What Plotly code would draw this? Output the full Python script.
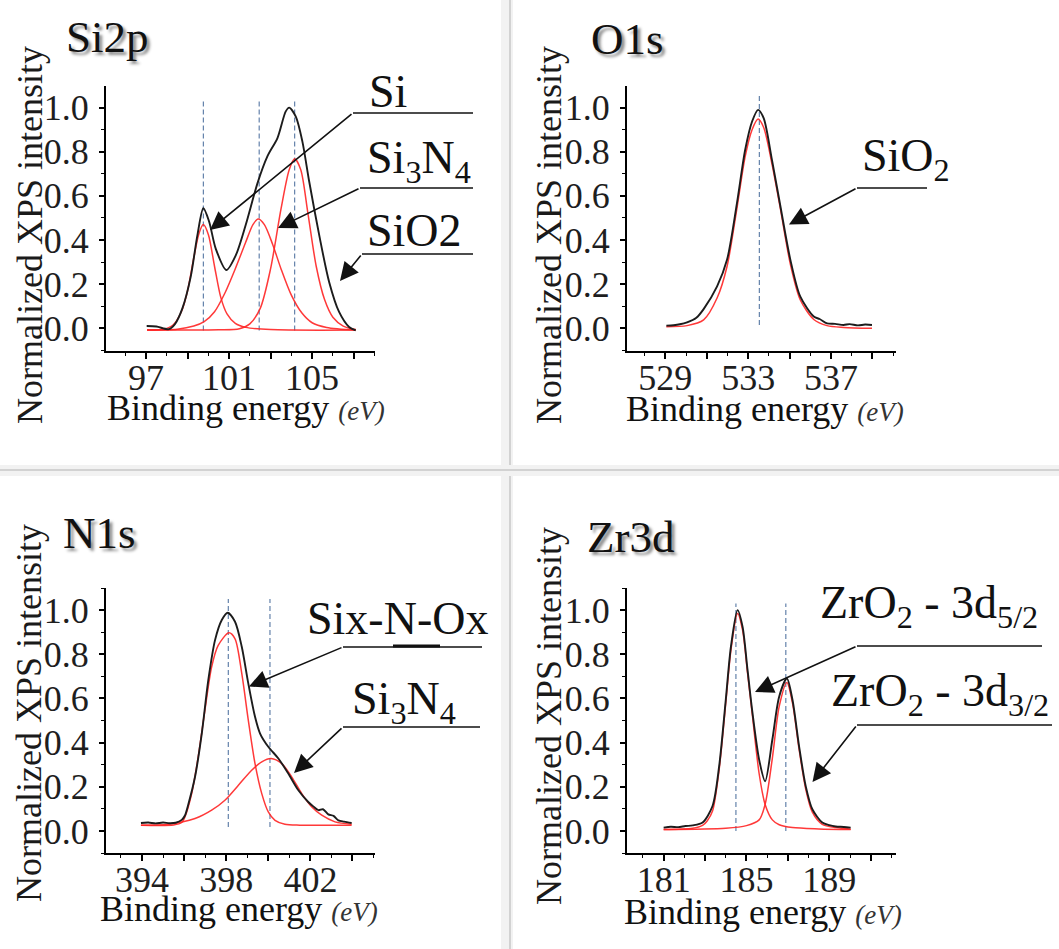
import plotly.graph_objects as go

W, H = 1059, 949
SERIF = "Liberation Serif, Times New Roman, serif"
BLACK = "#1c1c1c"
RED = "#ff2424"
REFBLUE = "#5677a3"
TICK_SIZE = 36

# ---------------- Si 2p ----------------
si2p_be = [97.03, 97.5, 98.1, 98.4, 98.75, 99.15, 99.47, 99.76, 100.04, 100.36, 100.87, 101.32,
           101.8, 102.37, 102.85, 103.33, 103.73, 103.9, 104.21, 104.53, 104.86, 105.34, 105.82,
           106.3, 106.78, 107.1]
si2p_int = [0.010, 0.008, -0.004, 0.020, 0.090, 0.233, 0.420, 0.544, 0.483, 0.360, 0.264, 0.330,
            0.468, 0.658, 0.780, 0.862, 0.983, 1.000, 0.960, 0.847, 0.665, 0.423, 0.210,
            0.074, 0.006, -0.010]
si2p_si_be = [97.05, 97.8, 98.3, 98.7, 99.0, 99.3, 99.55, 99.76, 100.0, 100.3, 100.6, 100.9,
              101.3, 101.8, 103.0, 107.1]
si2p_si = [-0.008, -0.005, 0.015, 0.075, 0.17, 0.32, 0.43, 0.47, 0.425, 0.28, 0.14, 0.065,
           0.022, 0.004, -0.006, -0.008]
si2p_si3n4_be = [97.05, 98.5, 99.3, 99.8, 100.3, 100.8, 101.3, 101.8, 102.15, 102.4, 102.7, 103.1,
                 103.5, 104.0, 104.5, 105.0, 105.7, 107.1]
si2p_si3n4 = [-0.008, -0.004, 0.01, 0.03, 0.075, 0.16, 0.27, 0.39, 0.47, 0.495, 0.47, 0.38,
              0.27, 0.15, 0.07, 0.025, 0.004, -0.008]
si2p_sio2_be = [97.05, 100.5, 101.5, 102.0, 102.5, 103.0, 103.5, 103.9, 104.16, 104.45, 104.8,
                105.2, 105.6, 106.0, 106.5, 107.1]
si2p_sio2 = [-0.008, -0.007, -0.002, 0.02, 0.09, 0.27, 0.54, 0.72, 0.768, 0.72, 0.52,
             0.28, 0.13, 0.05, 0.01, -0.006]
si2p_refs = [99.76, 102.45, 104.16]

# ---------------- O 1s ----------------
o1s_be = [529.05, 529.4, 529.7, 530.05, 530.5, 530.85, 531.5, 531.98, 532.46, 532.86, 533.19,
          533.48, 533.75, 534.15, 534.56, 535.04, 535.52, 536.17, 536.45, 536.81, 537.2, 537.61,
          537.9, 538.3, 538.65, 538.98]
o1s_int = [0.012, 0.014, 0.018, 0.027, 0.048, 0.087, 0.19, 0.31, 0.567, 0.81, 0.937,
           0.99, 0.952, 0.763, 0.552, 0.31, 0.143, 0.053, 0.042, 0.022, 0.02, 0.015,
           0.019, 0.013, 0.017, 0.015]
o1s_sio2_be = [529.05, 530.05, 530.85, 531.5, 531.98, 532.46, 532.86, 533.19, 533.48, 533.75,
               534.15, 534.56, 535.04, 535.52, 536.17, 536.81, 537.61, 538.98]
o1s_sio2 = [0.007, 0.012, 0.038, 0.137, 0.28, 0.545, 0.78, 0.9, 0.948, 0.91,
            0.745, 0.54, 0.29, 0.128, 0.04, 0.012, 0.004, 0.0]
o1s_refs = [533.54]

# ---------------- N 1s ----------------
n1s_be = [393.95, 394.3, 394.65, 395.0, 395.3, 395.6, 395.89, 396.04, 396.2, 396.52, 396.84,
          397.15, 397.47, 397.79, 398.07, 398.42, 398.74, 399.05, 399.37, 399.61, 400.0, 400.48,
          400.95, 401.43, 401.9, 402.15, 402.38, 402.6, 402.85, 403.1, 403.33, 403.6, 403.96]
n1s_int = [0.036, 0.038, 0.034, 0.038, 0.035, 0.037, 0.05, 0.07, 0.12, 0.245, 0.441,
           0.683, 0.864, 0.955, 0.988, 0.947, 0.834, 0.668, 0.517, 0.441, 0.381, 0.328,
           0.26, 0.184, 0.131, 0.11, 0.094, 0.098, 0.075, 0.068, 0.048, 0.042, 0.036]
n1s_sino_be = [393.95, 395.5, 395.89, 396.04, 396.36, 396.67, 396.99, 397.31, 397.62, 398.13,
               398.42, 398.74, 399.05, 399.37, 399.69, 400.0, 400.32, 400.79, 401.5, 403.96]
n1s_sino = [0.026, 0.027, 0.038, 0.063, 0.169, 0.335, 0.547, 0.743, 0.84, 0.897,
            0.87, 0.713, 0.502, 0.305, 0.169, 0.086, 0.048, 0.03, 0.026, 0.026]
n1s_si3n4_be = [393.95, 395.25, 396.52, 397.31, 397.94, 398.58, 399.21, 399.69, 400.13, 400.64,
                401.11, 401.59, 402.06, 402.54, 403.17, 403.96]
n1s_si3n4 = [0.026, 0.03, 0.056, 0.094, 0.139, 0.207, 0.275, 0.313, 0.328, 0.305,
             0.245, 0.169, 0.109, 0.071, 0.041, 0.03]
n1s_refs = [398.1, 400.08]

# ---------------- Zr 3d ----------------
zr3d_be = [181.0, 181.35, 181.7, 182.05, 182.4, 182.88, 183.36, 183.68, 184.0, 184.25, 184.57,
           184.81, 185.05, 185.29, 185.61, 185.9, 186.25, 186.58, 186.95, 187.22, 187.54, 187.86,
           188.18, 188.66, 189.0, 189.31, 189.7, 190.03]
zr3d_int = [0.015, 0.019, 0.017, 0.022, 0.025, 0.038, 0.113, 0.293, 0.594, 0.836, 1.0,
            0.925, 0.73, 0.534, 0.323, 0.225, 0.414, 0.609, 0.69, 0.594, 0.383, 0.203,
            0.098, 0.038, 0.026, 0.02, 0.018, 0.015]
zr3d_52_be = [181.0, 182.4, 182.88, 183.1, 183.36, 183.68, 184.0, 184.25, 184.57, 184.81, 185.05,
              185.29, 185.61, 185.9, 186.25, 186.58, 187.22, 188.5, 190.03]
zr3d_52 = [0.006, 0.012, 0.025, 0.045, 0.09, 0.278, 0.58, 0.82, 0.985, 0.91, 0.715,
           0.52, 0.26, 0.12, 0.05, 0.028, 0.015, 0.009, 0.006]
zr3d_32_be = [181.0, 184.0, 185.0, 185.61, 185.9, 186.25, 186.58, 186.95, 187.22, 187.54, 187.86,
              188.18, 188.66, 189.31, 190.03]
zr3d_32 = [0.006, 0.012, 0.024, 0.05, 0.12, 0.33, 0.564, 0.672, 0.58, 0.37, 0.19,
           0.085, 0.03, 0.015, 0.008]
zr3d_refs = [184.49, 186.9]

# tick labels
y_tick_vals = [0.0, 0.2, 0.4, 0.6, 0.8, 1.0]
y_tick_text = ["0.0", "0.2", "0.4", "0.6", "0.8", "1.0"]
si2p_ticks = [97, 99, 101, 103, 105, 107]
si2p_tick_text = ["97", "", "101", "", "105", ""]
o1s_ticks = [529, 531, 533, 535, 537, 539]
o1s_tick_text = ["529", "", "533", "", "537", ""]
n1s_ticks = [394, 396, 398, 400, 402, 404]
n1s_tick_text = ["394", "", "398", "", "402", ""]
zr3d_ticks = [181, 183, 185, 187, 189, 191]
zr3d_tick_text = ["181", "", "185", "", "189", ""]


def PX(x):
    return x / W


def PY(y):
    return 1 - y / H


# panel frames in pixels (left, right, top, bottom)
COL_L = (106, 375)
COL_R = (627, 896)
ROW_T = (86, 351)
ROW_B = (588, 853)

panels = [
    dict(name="Si2p", ax="", col=COL_L, row=ROW_T, xr=[95.07, 108.03], yr=[-0.103, 1.098],
         ticks=si2p_ticks, tick_text=si2p_tick_text, tick0=97,
         total=(si2p_be, si2p_int),
         comps=[(si2p_si_be, si2p_si), (si2p_si3n4_be, si2p_si3n4), (si2p_sio2_be, si2p_sio2)],
         refs=si2p_refs, ref_span=(-0.01, 1.03)),
    dict(name="O1s", ax="2", col=COL_R, row=ROW_T, xr=[527.15, 540.14], yr=[-0.103, 1.098],
         ticks=o1s_ticks, tick_text=o1s_tick_text, tick0=529,
         total=(o1s_be, o1s_int), comps=[(o1s_sio2_be, o1s_sio2)],
         refs=o1s_refs, ref_span=(0.015, 1.06)),
    dict(name="N1s", ax="3", col=COL_L, row=ROW_B, xr=[392.29, 405.07], yr=[-0.1, 1.1],
         ticks=n1s_ticks, tick_text=n1s_tick_text, tick0=394,
         total=(n1s_be, n1s_int), comps=[(n1s_sino_be, n1s_sino), (n1s_si3n4_be, n1s_si3n4)],
         refs=n1s_refs, ref_span=(0.018, 1.05)),
    dict(name="Zr3d", ax="4", col=COL_R, row=ROW_B, xr=[179.23, 192.22], yr=[-0.1, 1.1],
         ticks=zr3d_ticks, tick_text=zr3d_tick_text, tick0=181,
         total=(zr3d_be, zr3d_int), comps=[(zr3d_52_be, zr3d_52), (zr3d_32_be, zr3d_32)],
         refs=zr3d_refs, ref_span=(0.0, 1.03)),
]

fig = go.Figure()
layout_axes = {}

for p in panels:
    xa, ya = "x" + p["ax"], "y" + p["ax"]
    # reference positions (dashed)
    for e in p["refs"]:
        fig.add_trace(go.Scatter(x=[e, e], y=list(p["ref_span"]), mode="lines", xaxis=xa, yaxis=ya,
                                 line=dict(color=REFBLUE, width=1.1, dash="5px,3px"),
                                 showlegend=False, hoverinfo="skip"))
    # fitted components
    for bx, by in p["comps"]:
        fig.add_trace(go.Scatter(x=bx, y=by, mode="lines", xaxis=xa, yaxis=ya,
                                 line=dict(color=RED, width=1.5, shape="spline", smoothing=0.8),
                                 opacity=0.9, showlegend=False))
    # measured spectrum
    bx, by = p["total"]
    fig.add_trace(go.Scatter(x=bx, y=by, mode="lines", xaxis=xa, yaxis=ya,
                             line=dict(color=BLACK, width=1.9, shape="spline", smoothing=0.8),
                             showlegend=False))

    layout_axes["xaxis" + p["ax"]] = dict(
        domain=[PX(p["col"][0]), PX(p["col"][1])], range=p["xr"], anchor=ya,
        tickmode="array", tickvals=p["ticks"], ticktext=p["tick_text"],
        ticks="outside", ticklen=6, tickwidth=1.5, tickcolor="black",
        minor=dict(tickmode="linear", tick0=p["tick0"], dtick=1, ticks="outside",
                   ticklen=3, tickwidth=1.2, tickcolor="black"),
        showline=True, linecolor="black", linewidth=2, showgrid=False, zeroline=False,
        tickfont=dict(family=SERIF, size=TICK_SIZE, color="#1e1e1e"), ticklabelstandoff=-12,
    )
    layout_axes["yaxis" + p["ax"]] = dict(
        domain=[PY(p["row"][1]), PY(p["row"][0])], range=p["yr"], anchor=xa,
        tickmode="array", tickvals=y_tick_vals, ticktext=y_tick_text,
        ticks="outside", ticklen=5, tickwidth=1.5, tickcolor="black",
        minor=dict(tickmode="linear", tick0=0, dtick=0.1, ticks="outside",
                   ticklen=3, tickwidth=1.2, tickcolor="black"),
        showline=True, linecolor="black", linewidth=2, showgrid=False, zeroline=False,
        tickfont=dict(family=SERIF, size=TICK_SIZE, color="#1e1e1e"), ticklabelstandoff=3,
    )

annotations = []
shapes = []


def text_at(text, left, baseline, size, **kw):
    annotations.append(dict(
        text=text, x=PX(left), y=PY(baseline - 0.34 * size), xref="paper", yref="paper",
        xanchor="left", yanchor="middle", showarrow=False,
        font=dict(family=SERIF, size=size, color="#111111", **kw)))


# panel titles
titles = [("Si2p", 64, 52), ("O1s", 589, 54), ("N1s", 61, 548), ("Zr3d", 585, 552)]
for t, x, y in titles:
    text_at(t, x, y, 45, shadow="3px 3px 3px rgba(0,0,0,0.45)")

# axis titles
ylab_pos = [(30, 235), (549, 235), (29, 713), (549, 716)]
for x, y in ylab_pos:
    annotations.append(dict(text="Normalized XPS intensity", x=PX(x), y=PY(y), xref="paper",
                            yref="paper", xanchor="center", yanchor="middle", textangle=-90,
                            showarrow=False, font=dict(family=SERIF, size=36, color="#1a1a1a")))
xlab_pos = [(105, 420), (624, 421), (98, 921), (622, 924)]
for x, y in xlab_pos:
    text_at("Binding energy <i><span style='font-size:27px;color:#333'>(eV)</span></i>",
            x, y, 36)

# peak labels with leader lines and arrows
labels = [
    ("Si", 367, 107, (353, 473, 113), (210, 230)),
    ("Si<sub>3</sub>N<sub>4</sub>", 365, 177, (360, 473, 188), (278, 228)),
    ("SiO2", 365, 246, (362, 473, 254), (340, 281)),
    ("SiO<sub>2</sub>", 860, 175, (857, 927, 188), (789, 224.5)),
    ("Six-N-Ox", 305, 634, (343, 482, 647), (249, 686.5)),
    ("Si<sub>3</sub>N<sub>4</sub>", 350, 718, (343, 480, 727), (294, 773)),
    ("ZrO<sub>2</sub> - 3d<sub>5/2</sub>", 818, 622, (857, 1042, 646), (755, 692)),
    ("ZrO<sub>2</sub> - 3d<sub>3/2</sub>", 829, 710, (857, 1052, 725), (812.5, 782)),
]
for text, lx, base, (x0, x1, ly), (tx, ty) in labels:
    text_at(text, lx, base, 46)
    shapes.append(dict(type="line", xref="paper", yref="paper", x0=PX(x0), x1=PX(x1),
                       y0=PY(ly), y1=PY(ly), line=dict(color="#111111", width=1.6)))
    annotations.append(dict(text="", x=PX(tx), y=PY(ty), xref="paper", yref="paper",
                            ax=x0 - tx, ay=ly - ty, showarrow=True, arrowhead=2,
                            arrowsize=2.3, arrowwidth=1.6, arrowcolor="#111111", standoff=0))

# heavier stroke under the "N" of Six-N-Ox
shapes.append(dict(type="line", xref="paper", yref="paper", x0=PX(393), x1=PX(440),
                   y0=PY(646), y1=PY(646), line=dict(color="#111111", width=3)))

# panel separators
shapes.append(dict(type="rect", xref="paper", yref="paper", x0=PX(501), x1=PX(513), y0=0, y1=1,
                   fillcolor="#f2f2f2", line=dict(width=0), layer="below"))
shapes.append(dict(type="line", xref="paper", yref="paper", x0=PX(510), x1=PX(510), y0=0, y1=1,
                   line=dict(color="#d2d2d2", width=2), layer="below"))
shapes.append(dict(type="rect", xref="paper", yref="paper", x0=0, x1=1, y0=PY(476), y1=PY(465),
                   fillcolor="#f2f2f2", line=dict(width=0), layer="below"))
shapes.append(dict(type="line", xref="paper", yref="paper", x0=0, x1=1, y0=PY(470), y1=PY(470),
                   line=dict(color="#d2d2d2", width=2), layer="below"))

fig.update_layout(
    width=W, height=H, margin=dict(l=0, r=0, t=0, b=0),
    paper_bgcolor="white", plot_bgcolor="rgba(0,0,0,0)",
    showlegend=False, annotations=annotations, shapes=shapes,
    font=dict(family=SERIF), **layout_axes,
)

fig.write_html("out.html")
